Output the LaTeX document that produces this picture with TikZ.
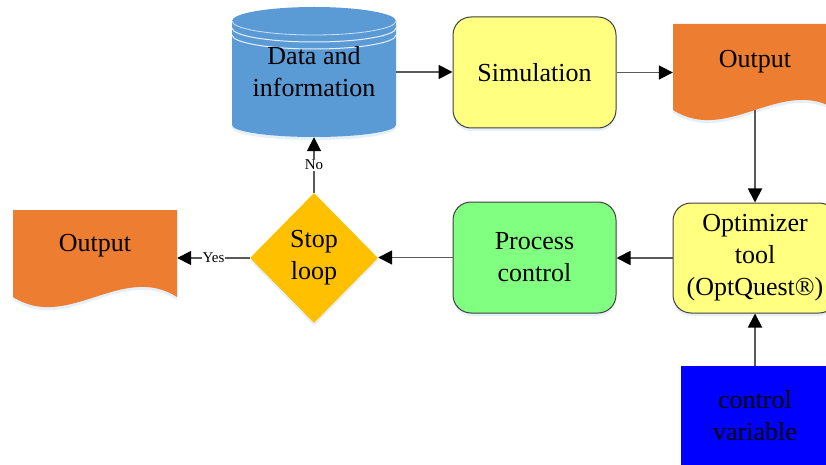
\documentclass[tikz,border=0pt]{standalone}
\usepackage{fontspec}
\setmainfont{Liberation Serif}
\usetikzlibrary{positioning,arrows.meta,shapes.geometric,shadows}

\definecolor{dbblue}{HTML}{5B9BD5}
\definecolor{simyellow}{HTML}{FFFF80}
\definecolor{procgreen}{HTML}{80FF80}
\definecolor{outorange}{HTML}{ED7D31}
\definecolor{stopyellow}{HTML}{FFC000}
\definecolor{ctrlblue}{HTML}{0000FF}

\begin{document}
\begin{tikzpicture}[x=1pt, y=1pt,
  font=\fontsize{26}{32}\selectfont,
  glow/.style={drop shadow={shadow xshift=0pt, shadow yshift=-3pt, fill=dbblue!30, opacity=0.5}},
  box/.style={draw=black!75, line width=1pt, rounded corners=18pt, glow,
    minimum width=163pt, minimum height=111pt, align=center},
  txt/.style={align=center, inner sep=0pt},
  flow/.style={draw=black!65, line width=1.8pt,
    -{Triangle[length=14pt, width=14pt, color=black]}},
  lbl/.style={font=\fontsize{15}{18}\selectfont, fill=white, inner sep=1pt}]
  \useasboundingbox (0,0) rectangle (826,464);

  % Database cylinder
  \fill[dbblue, glow] (232,443) -- (232,339)
    arc[start angle=180, end angle=360, x radius=82pt, y radius=12pt]
    -- (396,443)
    arc[start angle=0, end angle=180, x radius=82pt, y radius=14pt] -- cycle;
  \draw[white!70!dbblue, line width=0.8pt] (232,443)
    arc[start angle=180, end angle=360, x radius=82pt, y radius=14pt];
  \draw[white!85!dbblue, line width=1pt] (232,436)
    arc[start angle=180, end angle=360, x radius=82pt, y radius=14pt];
  \draw[white!85!dbblue, line width=1pt] (232,429)
    arc[start angle=180, end angle=360, x radius=82pt, y radius=14pt];
  \node[txt, minimum width=164pt, minimum height=130pt] (data) at (314,392)
    {Data and\\information};

  % Document shapes
  \fill[outorange, glow] (673,440) -- (837,440) -- (837,354)
    .. controls (782,389) and (728,319) .. (673,354) -- cycle;
  \node[txt, minimum width=164pt, minimum height=96pt] (out1) at (755,402) {Output};

  \fill[outorange, glow] (13,254) -- (177,254) -- (177,167)
    .. controls (122,202) and (68,132) .. (13,167) -- cycle;
  \node[txt, minimum width=164pt, minimum height=20pt] (outL) at (95,218) {Output};

  % Process boxes
  \node[box, fill=simyellow] (sim) at (534.5,391.5) {Simulation};
  \node[box, fill=procgreen] (proc) at (534.5,206.5) {Process\\control};
  \node[box, fill=simyellow, minimum width=164pt, minimum height=110pt] (opt) at (755,206)
    {Optimizer\\tool\\(OptQuest®)};
  \node[diamond, fill=stopyellow, glow, minimum width=128pt, minimum height=130pt,
    inner sep=0pt, align=center] (stop) at (314,206) {Stop\\loop};
  \node[fill=ctrlblue, minimum width=148pt, minimum height=100pt, align=center]
    (ctrl) at (755,48) {control\\variable};

  % Connectors
  \draw[flow] (data.east) -- (sim.west |- data.east);
  \draw[flow] (sim.east) -- (out1.west |- sim.east);
  \draw[flow] (out1.south) -- (opt.north);
  \draw[flow] (ctrl.north) -- (opt.south);
  \draw[flow] (opt.west) -- (proc.east |- opt.west);
  \draw[flow] (proc.west) -- (stop.east |- proc.west);
  \draw[flow] (stop.north) -- node[lbl] {No} (data.south);
  \draw[flow] (stop.west) -- node[lbl] {Yes} (outL.east |- stop.west);
\end{tikzpicture}
\end{document}
